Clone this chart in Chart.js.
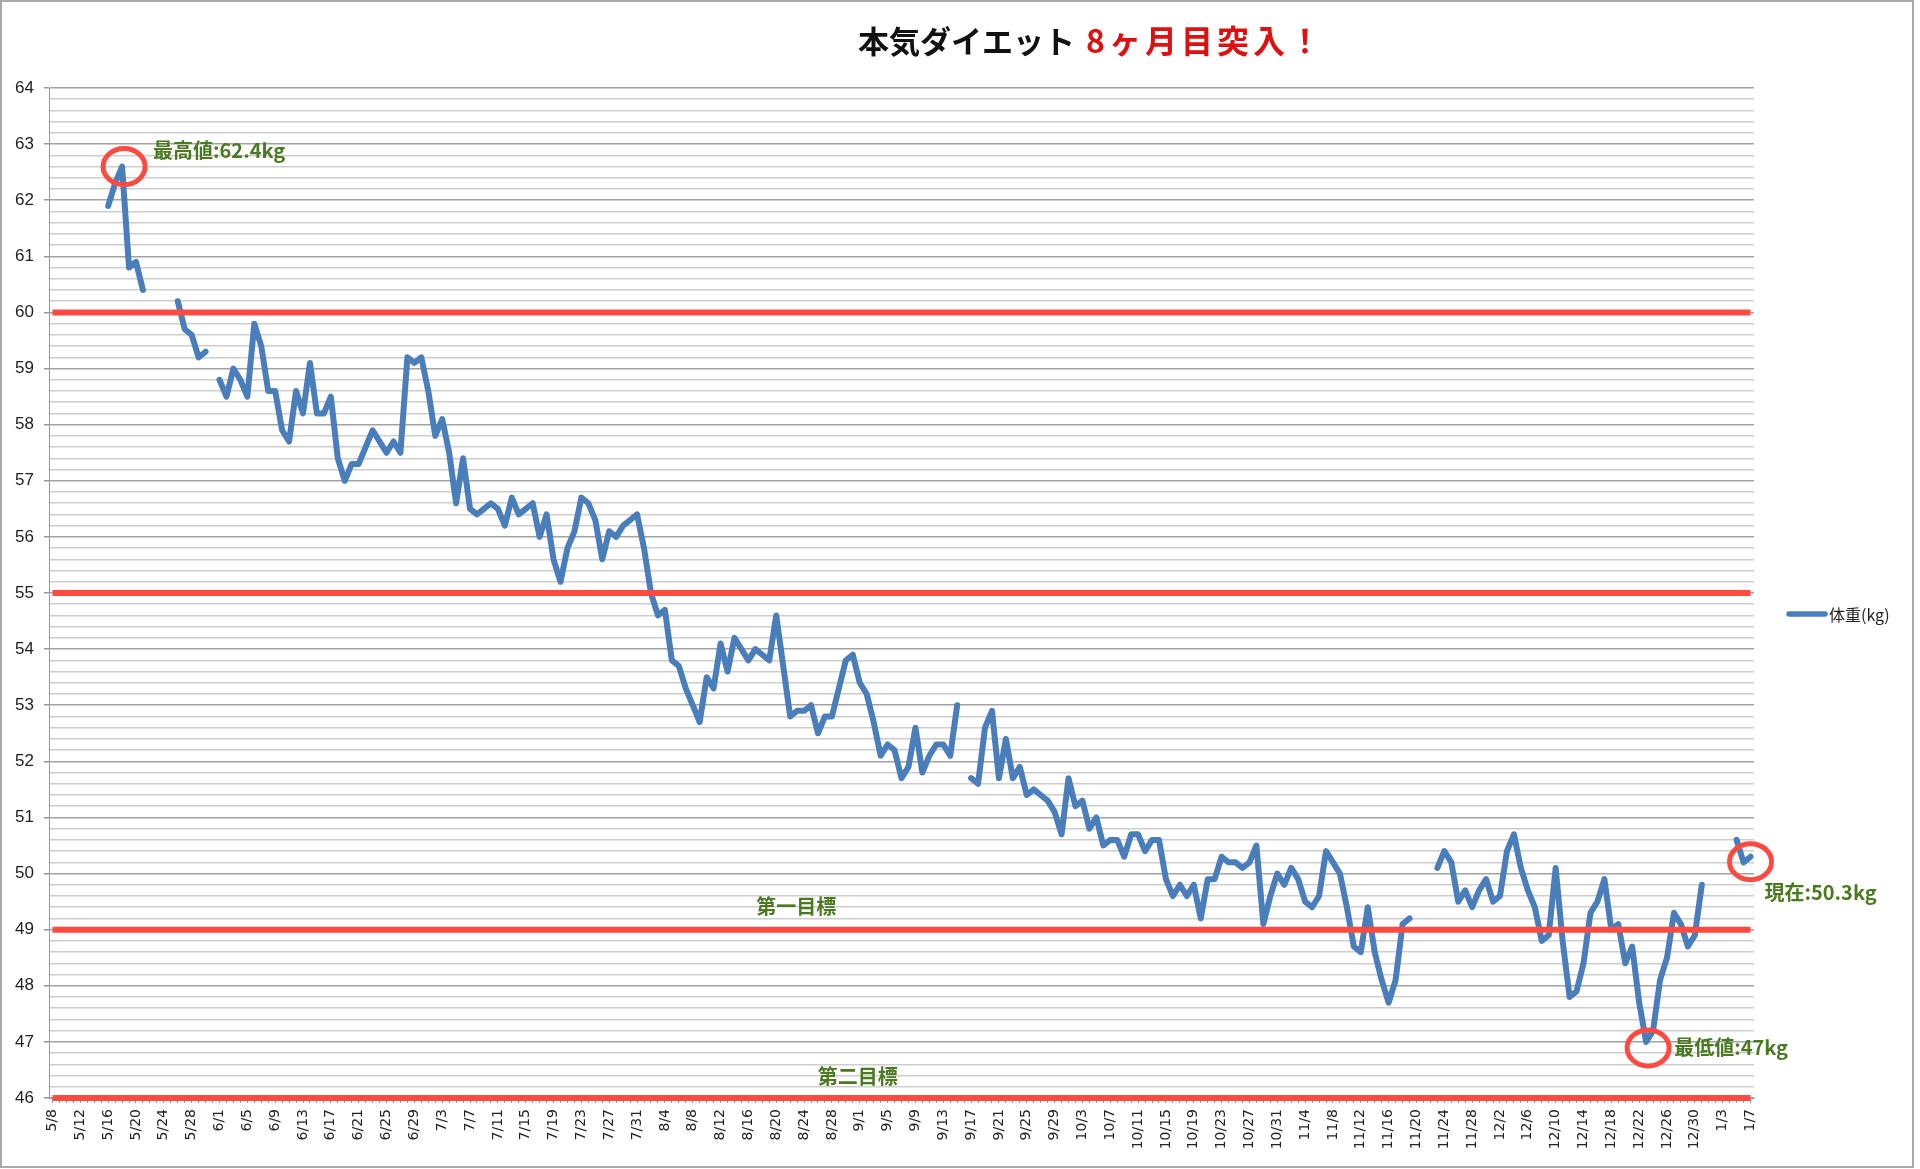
<!DOCTYPE html>
<html>
<head>
  <meta charset="UTF-8">
  <title>本気ダイエット</title>
  <style>
    body {
      margin: 0;
      background: #fff;
    }
    #chart {
      display: block;
    }
  </style>
  <script src="https://cdn.jsdelivr.net/npm/chart.js"></script>
</head>
<body>
  <canvas id="chart" width="1920" height="1169"></canvas>
  <script>
    // [月, 最初の日]
    const monthStarts = [[5, 8], [6, 1], [7, 1], [8, 1], [9, 1], [10, 1], [11, 1], [12, 1], [1, 1]];

    // 体重(kg), null = 記録なし
    const weightMay = [null, null, null, null, null, null, null, null, 61.9, 62.3, 62.6, 60.8, 60.9, 60.4,
      null, null, null, null, 60.2, 59.7, 59.6, 59.2, 59.3, null];
    const weightJun = [58.8, 58.5, 59.0, 58.8, 58.5, 59.8, 59.4, 58.6, 58.6, 57.9, 57.7, 58.6, 58.2, 59.1, 58.2,
      58.2, 58.5, 57.4, 57.0, 57.3, 57.3, 57.6, 57.9, 57.7, 57.5, 57.7, 57.5, 59.2, 59.1, 59.2];
    const weightJul = [58.6, 57.8, 58.1, 57.5, 56.6, 57.4, 56.5, 56.4, 56.5, 56.6, 56.5, 56.2, 56.7, 56.4, 56.5,
      56.6, 56.0, 56.4, 55.6, 55.2, 55.8, 56.1, 56.7, 56.6, 56.3, 55.6, 56.1, 56.0, 56.2, 56.3, 56.4];
    const weightAug = [55.8, 55.0, 54.6, 54.7, 53.8, 53.7, 53.3, 53.0, 52.7, 53.5, 53.3, 54.1, 53.6, 54.2, 54.0,
      53.8, 54.0, 53.9, 53.8, 54.6, 53.7, 52.8, 52.9, 52.9, 53.0, 52.5, 52.8, 52.8, 53.3, 53.8, 53.9];
    const weightSep = [53.4, 53.2, 52.7, 52.1, 52.3, 52.2, 51.7, 51.9, 52.6, 51.8, 52.1, 52.3, 52.3, 52.1, 53.0,
      null, 51.7, 51.6, 52.6, 52.9, 51.7, 52.4, 51.7, 51.9, 51.4, 51.5, 51.4, 51.3, 51.1, 50.7];
    const weightOct = [51.7, 51.2, 51.3, 50.8, 51.0, 50.5, 50.6, 50.6, 50.3, 50.7, 50.7, 50.4, 50.6, 50.6, 49.9,
      49.6, 49.8, 49.6, 49.8, 49.2, 49.9, 49.9, 50.3, 50.2, 50.2, 50.1, 50.2, 50.5, 49.1, 49.6, 50.0];
    const weightNov = [49.8, 50.1, 49.9, 49.5, 49.4, 49.6, 50.4, 50.2, 50.0, 49.4, 48.7, 48.6, 49.4, 48.6, 48.1,
      47.7, 48.1, 49.1, 49.2, null, null, null, 50.1, 50.4, 50.2, 49.5, 49.7, 49.4, 49.7, 49.9];
    const weightDec = [49.5, 49.6, 50.4, 50.7, 50.1, 49.7, 49.4, 48.8, 48.9, 50.1, 48.8, 47.8, 47.9, 48.4, 49.3,
      49.5, 49.9, 49.0, 49.1, 48.4, 48.7, 47.7, 47.0, 47.2, 48.1, 48.5, 49.3, 49.1, 48.7, 48.9, 49.8];
    const weightJan = [null, null, null, null, 50.6, 50.2, 50.3];

    // 目標ライン(kg)
    const targetLines = [60, 55, 49, 46];

    const monthly = [weightMay, weightJun, weightJul, weightAug, weightSep, weightOct, weightNov, weightDec, weightJan];
    const labels = [];
    const weights = [];
    monthly.forEach((arr, i) => {
      const [m, d0] = monthStarts[i];
      arr.forEach((v, j) => {
        labels.push(`${m}/${d0 + j}`);
        weights.push(v);
      });
    });

    // 注釈: 位置はデータ座標 + ピクセルのずれ
    const notes = [
      { text: '最高値:62.4kg', at: '5/18', value: 62.6, dx: 31, dy: -16, ring: { dx: 2, dy: 0 } },
      { text: '現在:50.3kg', at: '1/7', value: 50.3, dx: 14, dy: 36, ring: { dx: 0, dy: 5 } },
      { text: '最低値:47kg', at: '12/23', value: 47.0, dx: 28, dy: 6, ring: { dx: 2, dy: 6 } },
      { text: '第一目標', at: '8/22', value: 49, dx: 6, dy: -23, center: true },
      { text: '第二目標', at: '9/1', value: 46, dx: -2, dy: -22, center: true }
    ];

    const isMajor = v => Math.abs(v - Math.round(v)) < 1e-6;
    const JP = '"Noto Sans CJK JP", sans-serif';

    const decorations = {
      id: 'decorations',
      afterDatasetsDraw(chart) {
        const { ctx, scales: { x, y } } = chart;
        ctx.save();
        notes.forEach(n => {
          const px = x.getPixelForValue(labels.indexOf(n.at));
          const py = y.getPixelForValue(n.value);
          if (n.ring) {
            ctx.beginPath();
            ctx.ellipse(px + n.ring.dx, py + n.ring.dy, 21, 18, 0, 0, Math.PI * 2);
            ctx.strokeStyle = '#ff4a42';
            ctx.lineWidth = 5;
            ctx.stroke();
          }
          ctx.font = `bold 20px ${JP}`;
          ctx.fillStyle = '#4a7a20';
          ctx.textBaseline = 'middle';
          ctx.textAlign = n.center ? 'center' : 'left';
          ctx.fillText(n.text, px + n.dx, py + n.dy);
        });
        ctx.restore();
      },
      afterDraw(chart) {
        const { ctx } = chart;
        ctx.save();
        // タイトル
        ctx.textBaseline = 'middle';
        ctx.textAlign = 'left';
        ctx.font = `bold 31px ${JP}`;
        ctx.fillStyle = '#111';
        ctx.fillText('本気ダイエット', 858, 41);
        ctx.font = `bold 32px ${JP}`;
        ctx.fillStyle = '#dd1111';
        ctx.letterSpacing = '4px';
        ctx.fillText('8ヶ月目突入！', 1086, 41);
        ctx.letterSpacing = '0px';

        // 凡例
        const ds = chart.data.datasets.find(d => d.isWeight);
        ctx.beginPath();
        ctx.moveTo(1789, 614);
        ctx.lineTo(1825, 614);
        ctx.strokeStyle = ds.borderColor;
        ctx.lineWidth = 5.5;
        ctx.lineCap = 'round';
        ctx.stroke();
        ctx.font = `16px ${JP}`;
        ctx.fillStyle = '#222';
        ctx.fillText(ds.label, 1829, 615);

        // 枠
        ctx.strokeStyle = '#a9a9a9';
        ctx.lineWidth = 2;
        ctx.strokeRect(1, 1, 1912, 1166);
        ctx.restore();
      }
    };

    const targetSets = targetLines.map(t => ({
      label: '目標' + t,
      data: labels.map(() => t),
      borderColor: '#ff4a42',
      borderWidth: 6,
      pointRadius: 0,
      clip: false
    }));

    new Chart(document.getElementById('chart'), {
      type: 'line',
      data: {
        labels,
        datasets: [
          ...targetSets,
          {
            label: '体重(kg)',
            isWeight: true,
            data: weights,
            borderColor: '#4a7ebb',
            borderWidth: 6,
            borderJoinStyle: 'round',
            borderCapStyle: 'round',
            pointRadius: 0,
            spanGaps: false,
            tension: 0
          }
        ]
      },
      options: {
        responsive: false,
        animation: false,
        devicePixelRatio: 1,
        layout: { padding: { top: 88, right: 166, left: 0, bottom: 0 } },
        plugins: {
          legend: { display: false },
          title: { display: false },
          tooltip: { enabled: false }
        },
        scales: {
          x: {
            offset: true,
            afterFit: s => { s.height = 71; },
            border: { display: true, color: '#999' },
            grid: { drawOnChartArea: false, tickLength: 5, color: '#999' },
            ticks: {
              autoSkip: false,
              minRotation: 90,
              maxRotation: 90,
              padding: 6,
              color: '#222',
              font: { family: 'DejaVu Sans', size: 14 },
              callback: (v, i) => (i % 4 === 0 ? labels[i] : '')
            }
          },
          y: {
            min: 46,
            max: 64,
            afterFit: s => { s.width = 49; },
            border: { display: true, color: '#999' },
            grid: {
              tickLength: 5,
              lineWidth: 1.5,
              color: c => (isMajor(c.tick.value) ? '#a2a2a2' : '#cdcdcd'),
              tickColor: c => (isMajor(c.tick.value) ? '#999' : 'rgba(0,0,0,0)')
            },
            ticks: {
              stepSize: 0.2,
              autoSkip: false,
              padding: 10,
              color: '#222',
              font: { family: 'Liberation Sans', size: 17 },
              callback: v => (isMajor(v) ? Math.round(v) : '')
            }
          }
        }
      },
      plugins: [decorations]
    });
  </script>
</body>
</html>
